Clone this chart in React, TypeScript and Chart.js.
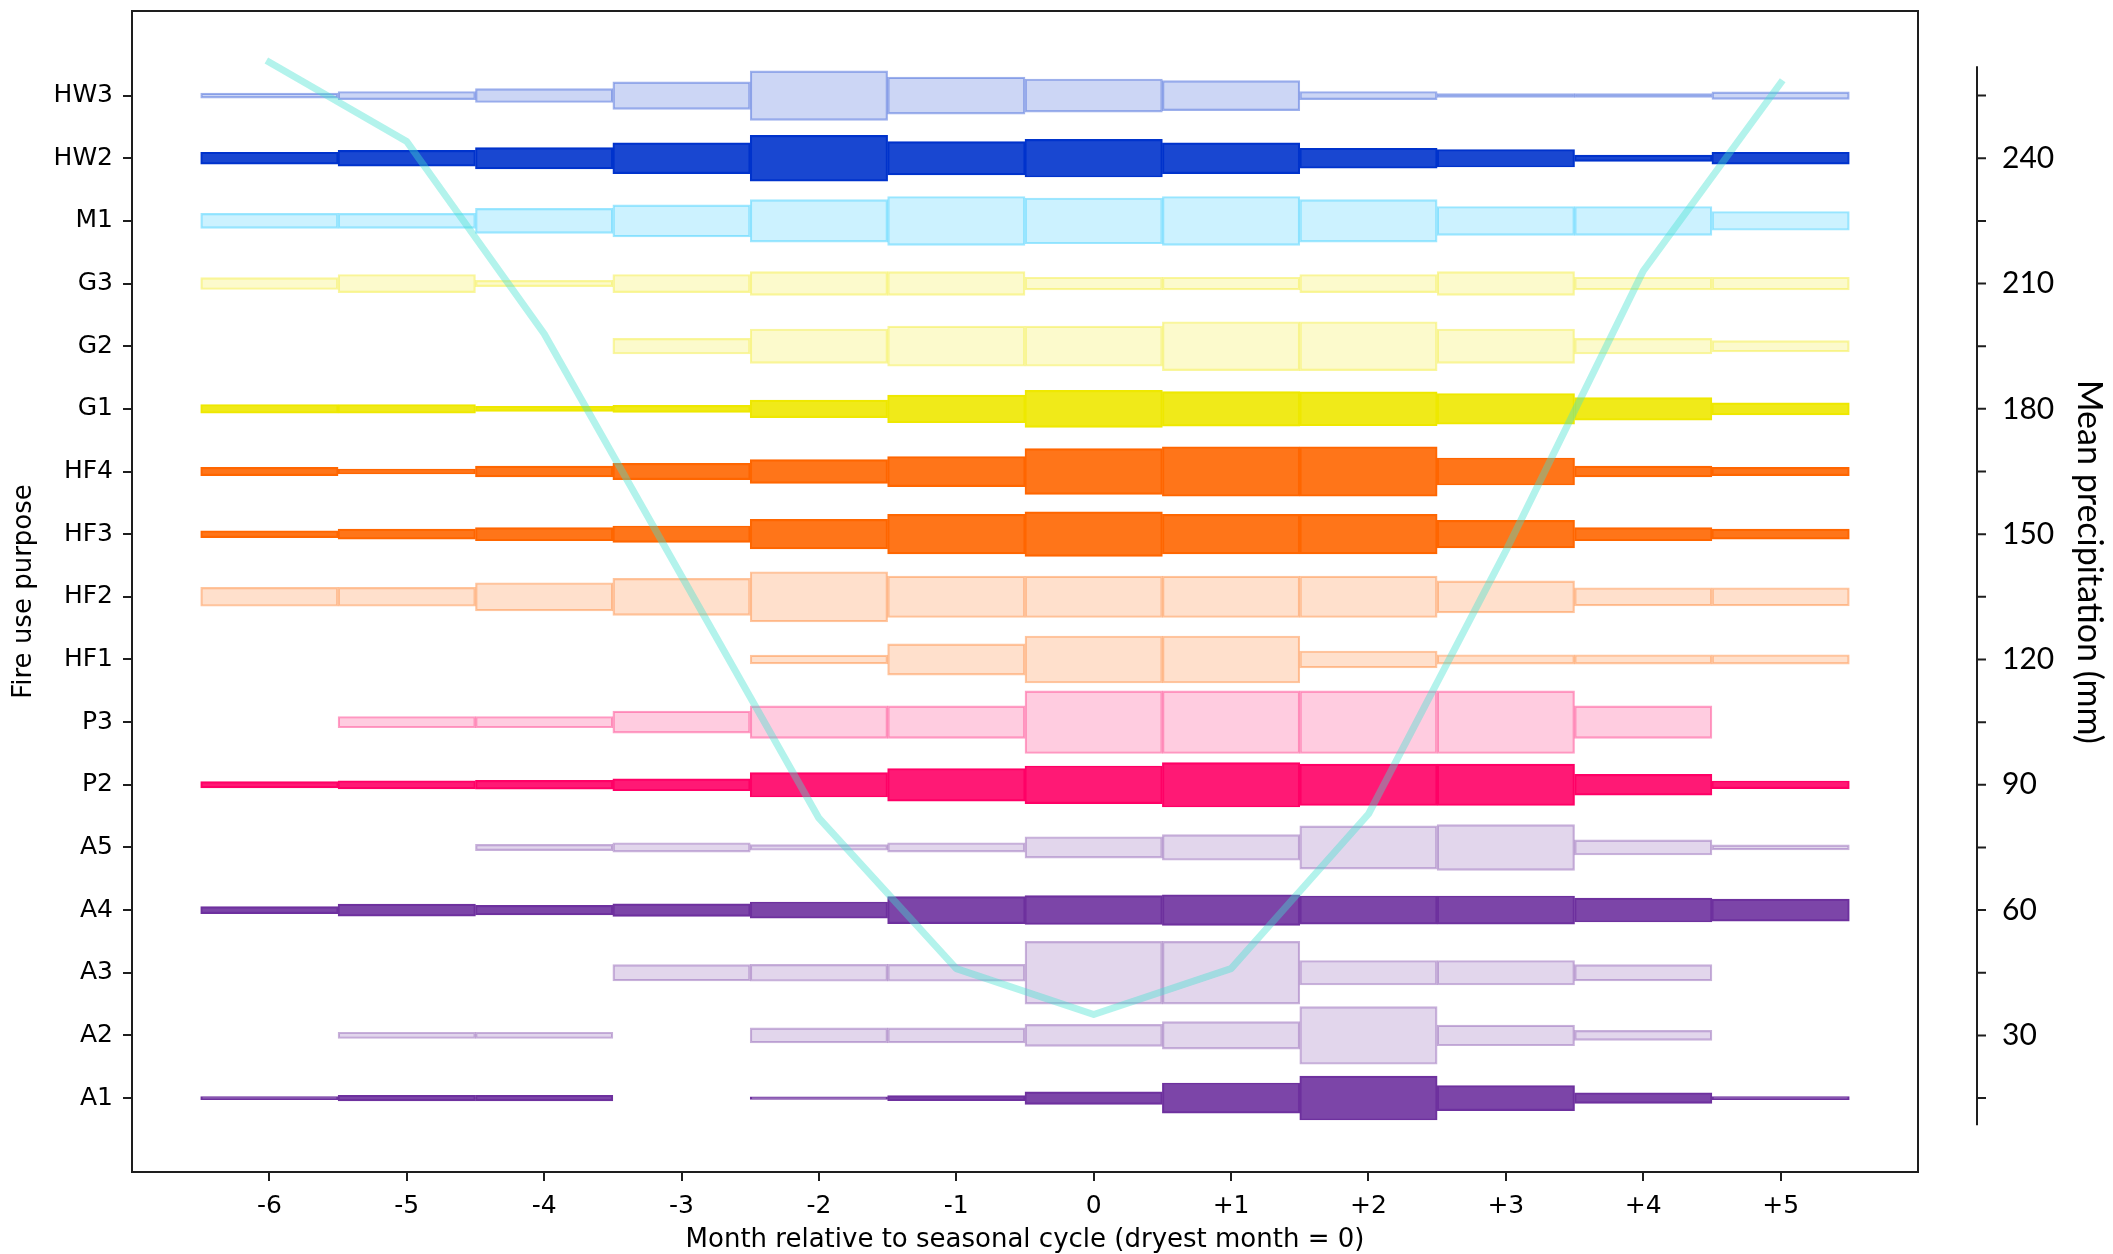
import React, { useEffect, useRef } from 'react';
import { Chart, registerables } from 'chart.js';

Chart.register(...registerables);

// ---- Data ----
const categories = ['A1', 'A2', 'A3', 'A4', 'A5', 'P2', 'P3', 'HF1', 'HF2', 'HF3', 'HF4', 'G1', 'G2', 'G3', 'M1', 'HW2', 'HW3'];
const months = [-6, -5, -4, -3, -2, -1, 0, 1, 2, 3, 4, 5];
const monthLabels = ['-6', '-5', '-4', '-3', '-2', '-1', '0', '+1', '+2', '+3', '+4', '+5'];

// Relative fire-use intensity per month (bar thickness, in row units); null = no record
const A1 = [0.05, 0.09, 0.09, null, 0.04, 0.08, 0.20, 0.48, 0.70, 0.40, 0.17, 0.05];
const A2 = [null, 0.10, 0.10, null, 0.24, 0.24, 0.35, 0.44, 0.92, 0.33, 0.16, null];
const A3 = [null, null, null, 0.26, 0.27, 0.27, 1.0, 1.0, 0.39, 0.39, 0.26, null];
const A4 = [0.11, 0.19, 0.15, 0.20, 0.26, 0.43, 0.46, 0.49, 0.45, 0.45, 0.38, 0.35];
const A5 = [null, null, 0.10, 0.15, 0.09, 0.15, 0.34, 0.41, 0.69, 0.73, 0.24, 0.08];
const P2 = [0.10, 0.13, 0.14, 0.19, 0.39, 0.52, 0.60, 0.71, 0.66, 0.66, 0.33, 0.12];
const P3 = [null, 0.18, 0.18, 0.35, 0.52, 0.52, 1.0, 1.0, 1.0, 1.0, 0.52, null];
const HF1 = [null, null, null, null, 0.14, 0.50, 0.75, 0.75, 0.27, 0.15, 0.15, 0.15];
const HF2 = [0.30, 0.30, 0.45, 0.59, 0.80, 0.66, 0.66, 0.66, 0.66, 0.51, 0.29, 0.29];
const HF3 = [0.11, 0.16, 0.21, 0.26, 0.47, 0.63, 0.71, 0.63, 0.63, 0.44, 0.21, 0.16];
const HF4 = [0.13, 0.08, 0.17, 0.26, 0.38, 0.48, 0.73, 0.79, 0.79, 0.43, 0.17, 0.13];
const G1 = [0.14, 0.14, 0.08, 0.11, 0.28, 0.44, 0.59, 0.55, 0.54, 0.49, 0.36, 0.19];
const G2 = [null, null, null, 0.25, 0.55, 0.64, 0.64, 0.78, 0.78, 0.55, 0.25, 0.18];
const G3 = [0.19, 0.29, 0.10, 0.29, 0.38, 0.38, 0.20, 0.20, 0.29, 0.38, 0.20, 0.20];
const M1 = [0.24, 0.24, 0.40, 0.51, 0.68, 0.78, 0.73, 0.78, 0.68, 0.46, 0.46, 0.30];
const HW2 = [0.19, 0.25, 0.34, 0.49, 0.73, 0.53, 0.60, 0.49, 0.32, 0.28, 0.10, 0.19];
const HW3 = [0.08, 0.13, 0.22, 0.44, 0.79, 0.59, 0.53, 0.48, 0.13, 0.06, 0.06, 0.12];

const rowValues = [A1, A2, A3, A4, A5, P2, P3, HF1, HF2, HF3, HF4, G1, G2, G3, M1, HW2, HW3];

// Mean precipitation (mm) per relative month
const precipitation = [263, 244, 198, 140, 82, 46, 35, 46, 83, 146, 213, 258];
const precipTicks = [15, 30, 45, 60, 75, 90, 105, 120, 135, 150, 165, 180, 195, 210, 225, 240, 255];
const precipSpine = [8.5, 262];

// ---- Styles ----
const PURPLE = [110, 49, 158];
const PINK = [255, 0, 102];
const ORANGE = [255, 102, 0];
const YELLOW = [238, 232, 0];
const CYAN = [0, 191, 255];
const BLUE = [0, 51, 204];
const rowColor = [PURPLE, PURPLE, PURPLE, PURPLE, PURPLE, PINK, PINK, ORANGE, ORANGE, ORANGE, ORANGE, YELLOW, YELLOW, YELLOW, CYAN, BLUE, BLUE];
const rowStrong = [true, false, false, true, false, true, false, false, false, true, true, true, false, false, false, true, false];

const Y_MIN = -1.18;
const Y_MAX = 17.35;
const MM_PER_ROW = 15; // right axis: precip = 15 * (row + 1)

const rgba = (c: number[], a: number) => `rgba(${c[0]},${c[1]},${c[2]},${a})`;

const TICK_FONT = { family: 'DejaVu Sans', size: 25 };
const TITLE_FONT = { family: 'DejaVu Sans', size: 26, lineHeight: 1.0 };
const AXIS_COLOR = '#1e1e1e';

const zeroPad = (s: any) => {
  s.paddingTop = 0;
  s.paddingBottom = 0;
  s.paddingLeft = 0;
  s.paddingRight = 0;
};

const decorPlugin = {
  id: 'decor',
  afterDraw(chart: any) {
    const { ctx, chartArea: a, scales } = chart;
    const y2 = scales.y2;
    ctx.save();
    ctx.strokeStyle = AXIS_COLOR;
    ctx.lineWidth = 2;
    ctx.strokeRect(a.left, a.top, a.right - a.left, a.bottom - a.top);
    const sx = a.right + 59;
    ctx.beginPath();
    ctx.moveTo(sx, y2.getPixelForValue(precipSpine[1]));
    ctx.lineTo(sx, y2.getPixelForValue(precipSpine[0]));
    precipTicks.forEach((v) => {
      const py = y2.getPixelForValue(v);
      ctx.moveTo(sx, py);
      ctx.lineTo(sx + 9, py);
    });
    ctx.stroke();
    ctx.translate(2089, 562);
    ctx.rotate(Math.PI / 2);
    ctx.font = '34px Lato';
    ctx.fillStyle = '#000';
    ctx.textAlign = 'center';
    ctx.textBaseline = 'middle';
    ctx.fillText('Mean precipitation (mm)', 0, 0);
    ctx.restore();
  },
};

export default function App() {
  const ref = useRef<HTMLCanvasElement>(null);

  useEffect(() => {
    if (!ref.current) return;
    const barDatasets = categories.map((cat, i) => {
      const vals = rowValues[i];
      const data: any[] = [];
      months.forEach((m, j) => {
        const v = vals[j];
        if (v != null) data.push({ x: m, y: [i - v / 2, i + v / 2] });
      });
      const strong = rowStrong[i];
      return {
        type: 'bar',
        label: cat,
        data,
        xAxisID: 'x',
        yAxisID: 'y',
        backgroundColor: rgba(rowColor[i], strong ? 0.9 : 0.2),
        borderColor: rgba(rowColor[i], strong ? 1 : 0.38),
        borderWidth: 1.5,
        borderSkipped: false,
        grouped: false,
        barPercentage: 1,
        categoryPercentage: 1,
        order: 2,
      };
    });

    const lineDataset = {
      type: 'line',
      label: 'Mean precipitation',
      data: months.map((m, j) => ({ x: m, y: precipitation[j] })),
      xAxisID: 'x',
      yAxisID: 'y2',
      borderColor: 'rgba(64,224,208,0.4)',
      borderWidth: 7,
      pointRadius: 0,
      fill: false,
      tension: 0,
      borderJoinStyle: 'round',
      borderCapStyle: 'square',
      order: 0,
    };

    const chart = new Chart(ref.current, {
      type: 'bar',
      data: { datasets: [...barDatasets, lineDataset] as any },
      options: {
        animation: false,
        responsive: false,
        devicePixelRatio: 1,
        layout: { padding: { top: 11, left: 0, right: 0, bottom: 0 } },
        plugins: { legend: { display: false }, tooltip: { enabled: false } },
        scales: {
          x: {
            type: 'linear',
            min: -7,
            max: 6,
            offset: false,
            afterBuildTicks: (s: any) => {
              s.ticks = months.map((v) => ({ value: v }));
            },
            afterFit: (s: any) => {
              s.height = 82;
              zeroPad(s);
            },
            ticks: {
              autoSkip: false,
              maxRotation: 0,
              padding: 10,
              color: '#000',
              font: TICK_FONT,
              callback: (_v: any, idx: number) => monthLabels[idx],
            },
            grid: { offset: false, drawOnChartArea: false, drawTicks: true, tickLength: 9, lineWidth: 2, color: AXIS_COLOR },
            border: { display: false },
            title: {
              display: true,
              text: 'Month relative to seasonal cycle (dryest month = 0)',
              color: '#000',
              font: TITLE_FONT,
              padding: { top: 0, bottom: 1 },
            },
          },
          y: {
            type: 'linear',
            position: 'left',
            min: Y_MIN,
            max: Y_MAX,
            afterBuildTicks: (s: any) => {
              s.ticks = categories.map((_c, i) => ({ value: i }));
            },
            afterFit: (s: any) => {
              s.width = 132;
              zeroPad(s);
            },
            ticks: {
              autoSkip: false,
              padding: 10,
              color: '#000',
              font: TICK_FONT,
              callback: (_v: any, idx: number) => categories[idx],
            },
            grid: { drawOnChartArea: false, drawTicks: true, tickLength: 9, lineWidth: 2, color: AXIS_COLOR },
            border: { display: false },
            title: {
              display: true,
              text: 'Fire use purpose',
              color: '#000',
              font: TITLE_FONT,
              padding: { top: 11, bottom: 0 },
            },
          },
          y2: {
            type: 'linear',
            position: 'right',
            min: MM_PER_ROW * (Y_MIN + 1),
            max: MM_PER_ROW * (Y_MAX + 1),
            afterBuildTicks: (s: any) => {
              s.ticks = precipTicks.map((v) => ({ value: v }));
            },
            afterFit: (s: any) => {
              s.width = 195;
              zeroPad(s);
            },
            ticks: {
              autoSkip: false,
              padding: 84,
              color: '#000',
              font: { family: 'Lato', size: 30 },
              callback: (v: any) => (Number(v) % 30 === 0 ? String(v) : ''),
            },
            grid: { display: false, drawTicks: false },
            border: { display: false },
          },
        },
      } as any,
      plugins: [decorPlugin],
    });
    return () => chart.destroy();
  }, []);

  return (
    <div style={{ position: 'absolute', left: 0, top: 0, width: 2113, height: 1254, background: '#fff' }}>
      <canvas ref={ref} width={2113} height={1254} style={{ width: 2113, height: 1254, display: 'block' }} />
    </div>
  );
}
